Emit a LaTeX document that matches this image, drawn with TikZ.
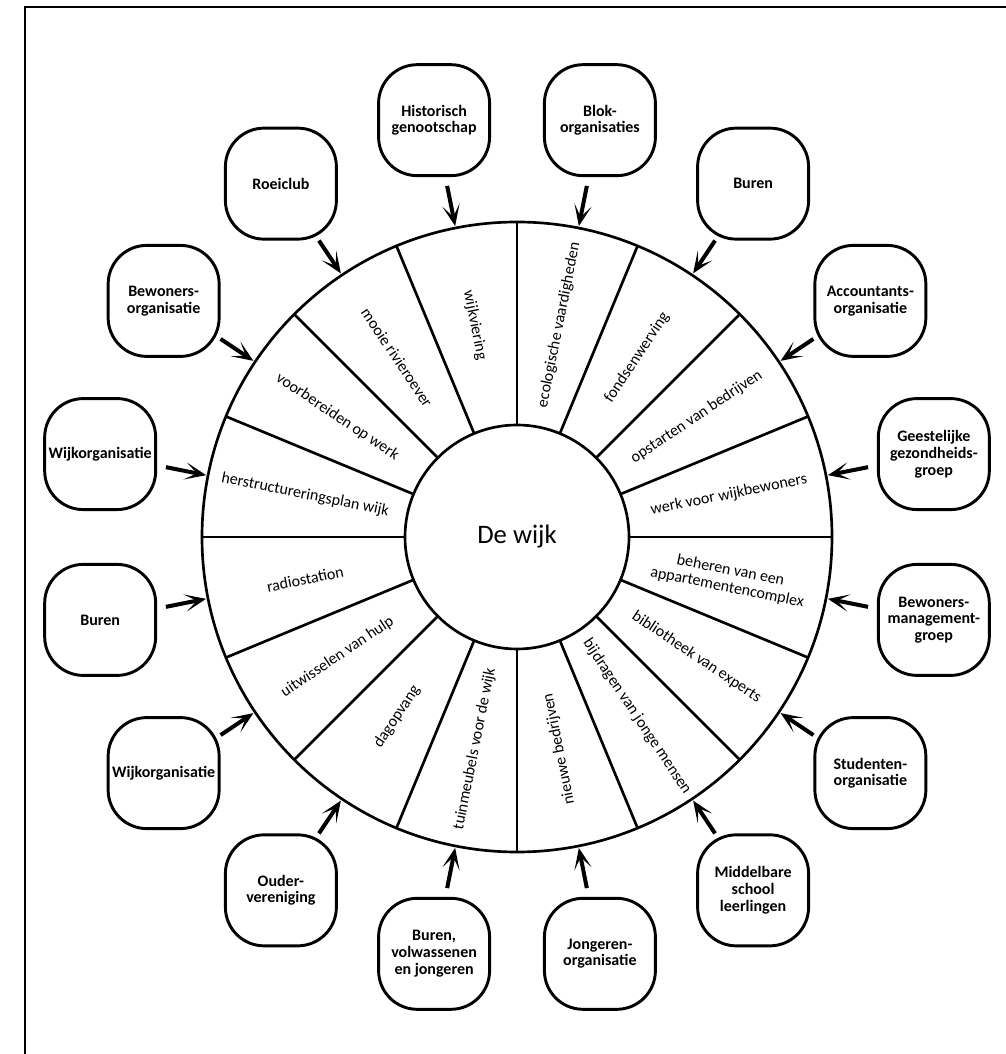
\documentclass[tikz,border=0pt]{standalone}
\usepackage{fontspec}
\setmainfont{Carlito}
\usetikzlibrary{arrows.meta,calc}
\begin{document}
\begin{tikzpicture}[x=0.75pt,y=0.75pt,
  box/.style={draw, line width=2.2pt, rounded corners=29pt, minimum size=83.25pt,
    inner sep=0pt, align=center, font=\bfseries\fontsize{12}{12.5}\selectfont},
  seg/.style={align=center, inner sep=0pt, font=\fontsize{12}{13}\selectfont},
  arr/.style={line width=3pt, -{Stealth[length=16pt,width=13pt,inset=9pt]}},
  wheel/.style={line width=2pt},
  frame/.style={line width=2pt}
]
\useasboundingbox (0,0) rectangle (1006,1054);
% frame (top and left edges)
\draw[frame] (25,-5) -- (25,1047) -- (1012,1047);

\begin{scope}[shift={(517,517)}]
  % hub
  \node[circle, draw, line width=2pt, minimum size=168pt, inner sep=0pt,
        font=\fontsize{20}{24}\selectfont] (hub) at (0,0) {De wijk};
  % outer rim
  \draw[wheel] (0,0) circle[radius=236.25pt];
  % spokes
  \foreach \a in {0,22.5,...,337.5}
    \draw[wheel] (\a:112) -- (\a:315);
  % segments, boxes and arrows
  \foreach \i/\m/\r/\sh/\lab/\bt in {
    1/101.25/-78.75/6.7pt/wijkviering/{Historisch\\genootschap},
    2/78.75/78.75/6.7pt/ecologische vaardigheden/{Blok-\\organisaties},
    3/56.25/56.25/0pt/fondsenwerving/Buren,
    4/33.75/33.75/0pt/opstarten van bedrijven/{Accountants-\\organisatie},
    5/11.25/11.25/6.7pt/werk voor wijkbewoners/{Geestelijke\\gezondheids-\\groep},
    6/-11.25/-11.25/6.7pt/{beheren van een\\appartementencomplex}/{Bewoners-\\management-\\groep},
    7/-33.75/-33.75/0pt/bibliotheek van experts/{Studenten-\\organisatie},
    8/-56.25/-56.25/0pt/bijdragen van jonge mensen/{Middelbare\\school\\leerlingen},
    9/-78.75/101.25/6.7pt/nieuwe bedrijven/{Jongeren-\\organisatie},
    10/-101.25/78.75/6.7pt/tuinmeubels voor de wijk/{Buren,\\volwassenen\\en jongeren},
    11/-123.75/56.25/0pt/dagopvang/{Ouder-\\vereniging},
    12/-146.25/33.75/0pt/uitwisselen van hulp/Wijkorganisatie,
    13/-168.75/11.25/6.7pt/radiostation/Buren,
    14/168.75/-11.25/6.7pt/herstructureringsplan wijk/Wijkorganisatie,
    15/146.25/-33.75/0pt/voorbereiden op werk/{Bewoners-\\organisatie},
    16/123.75/-56.25/0pt/mooie rivieroever/Roeiclub}
  {
    \node[seg, rotate=\r] (s\i) at (\m:216) {\lab};
    \node[box] (b\i) at (\m:425) {\bt};
    \coordinate (t\i) at (\m:317);
    \draw[arr, shorten <=\sh] (b\i) -- (t\i);
  }
\end{scope}
\end{tikzpicture}
\end{document}
